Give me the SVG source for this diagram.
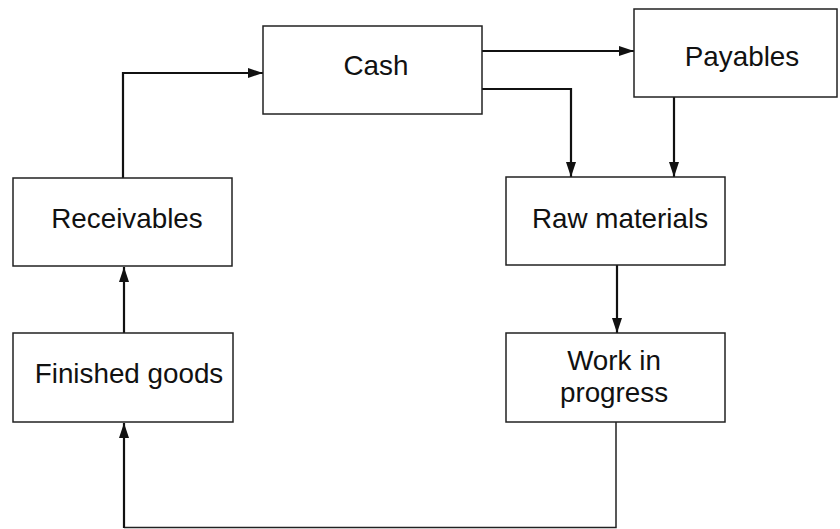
<svg xmlns="http://www.w3.org/2000/svg" width="840" height="529" viewBox="0 0 840 529">
  <style>
    .box { fill: #ffffff; stroke: #222222; stroke-width: 1.5; }
    .lbl { font-family: "Liberation Sans", Arial, Helvetica, sans-serif; font-size: 27.8px; fill: #111111; text-anchor: middle; }
    .flow { fill: none; stroke: #111111; stroke-width: 2.2; }
    .flow-thin { fill: none; stroke: #222222; stroke-width: 1.5; }
  </style>
  <defs>
    <marker id="head" markerUnits="userSpaceOnUse" markerWidth="15" markerHeight="10" refX="15" refY="5" orient="auto">
      <path d="M0,0 L15,5 L0,10 z" fill="#111111"/>
    </marker>
  </defs>
  <rect width="840" height="529" fill="#ffffff"/>

  <!-- connectors -->
  <g id="connectors">
    <polyline class="flow" points="123,178 123,73 263,73" marker-end="url(#head)"/>
    <line class="flow" x1="482" y1="51" x2="634" y2="51" marker-end="url(#head)"/>
    <polyline class="flow" points="482,89 571,89 571,177" marker-end="url(#head)"/>
    <line class="flow" x1="674" y1="97" x2="674" y2="177" marker-end="url(#head)"/>
    <line class="flow" x1="617" y1="265" x2="617" y2="333" marker-end="url(#head)"/>
    <polyline class="flow-thin" points="616,422 616,527.5 124,527.5"/>
    <line class="flow" x1="124" y1="528" x2="124" y2="423" marker-end="url(#head)"/>
    <line class="flow" x1="124" y1="333" x2="124" y2="267" marker-end="url(#head)"/>
  </g>

  <!-- nodes -->
  <g id="cash">
    <rect class="box" x="263" y="26" width="219" height="88"/>
    <text class="lbl" x="376" y="75">Cash</text>
  </g>
  <g id="payables">
    <rect class="box" x="634" y="9" width="203" height="88"/>
    <text class="lbl" x="742" y="66">Payables</text>
  </g>
  <g id="receivables">
    <rect class="box" x="13" y="178" width="219" height="88"/>
    <text class="lbl" x="127" y="228">Receivables</text>
  </g>
  <g id="raw-materials">
    <rect class="box" x="506" y="177" width="219" height="88"/>
    <text class="lbl" x="620" y="228">Raw materials</text>
  </g>
  <g id="finished-goods">
    <rect class="box" x="13" y="333" width="220" height="89"/>
    <text class="lbl" x="129" y="383">Finished goods</text>
  </g>
  <g id="work-in-progress">
    <rect class="box" x="506" y="333" width="219" height="89"/>
    <text class="lbl" x="614" y="370">Work in</text>
    <text class="lbl" x="614" y="402">progress</text>
  </g>
</svg>
